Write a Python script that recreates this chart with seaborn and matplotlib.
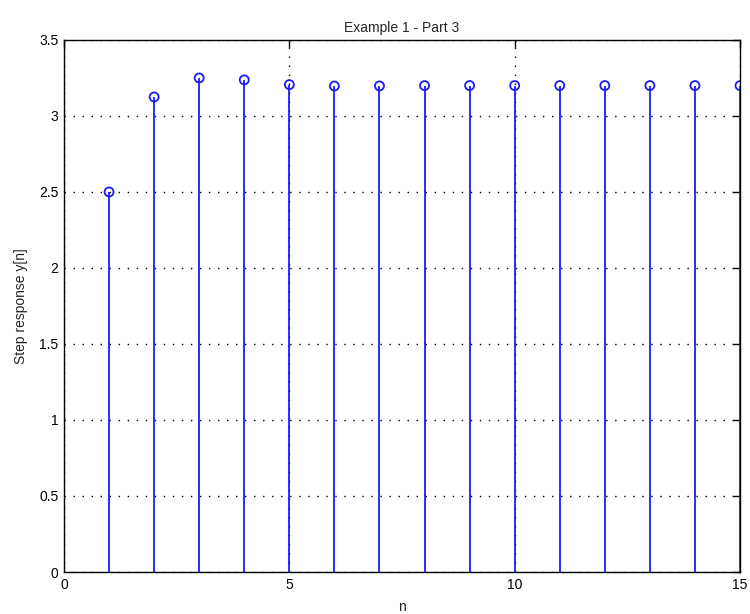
import matplotlib
matplotlib.use("Agg")
import matplotlib.pyplot as plt
import seaborn as sns
import numpy as np
import pandas as pd

# step response samples
n_vals = [1, 2, 3, 4, 5, 6, 7, 8, 9, 10, 11, 12, 13, 14, 15]
y_vals = [2.5, 3.125, 3.25, 3.2375, 3.2063, 3.1969, 3.1977, 3.1996,
          3.2001, 3.2001, 3.2000, 3.2000, 3.2000, 3.2000, 3.2000]
x_ticks = [0, 5, 10, 15]
y_ticks = [0, 0.5, 1, 1.5, 2, 2.5, 3, 3.5]

df = pd.DataFrame({'n': n_vals, 'y': y_vals})

sns.set_theme(style="white")
plt.rcParams['font.family'] = ['Liberation Sans Narrow', 'Liberation Sans', 'DejaVu Sans']

fig = plt.figure(figsize=(7.5, 6.14), dpi=100)
ax = fig.add_axes([0.0853, 0.0684, 0.9014, 0.8665])

# stems
ax.vlines(df['n'], 0, df['y'], color='#1a1aff', linewidth=1.3, zorder=3)
# open circle heads
sns.scatterplot(data=df, x='n', y='y', ax=ax, marker='o', s=42,
                facecolor='none', edgecolor='#1a1aff', linewidth=1.3, zorder=4)

ax.set_xlim(0, 15)
ax.set_ylim(0, 3.5)
ax.set_xticks(x_ticks)
ax.set_yticks(y_ticks)
ax.set_xticklabels([str(t) for t in x_ticks])
ax.set_yticklabels(['0', '0.5', '1', '1.5', '2', '2.5', '3', '3.5'])

ax.grid(True, color='black', linestyle=(0, (1, 5.5)), linewidth=1.0)
ax.set_axisbelow(True)
ax.tick_params(direction='in', length=5, width=1, top=True, right=True,
               labelsize=10, colors='black', pad=4)
for sp in ax.spines.values():
    sp.set_visible(True)
    sp.set_color('black')
    sp.set_linewidth(1)

ax.set_title('Example 1 - Part 3', fontsize=10, pad=6)
ax.set_xlabel('n', fontsize=10, labelpad=6)
ax.set_ylabel('Step response y[n]', fontsize=10, labelpad=8)

fig.savefig('out.png', dpi=100)
